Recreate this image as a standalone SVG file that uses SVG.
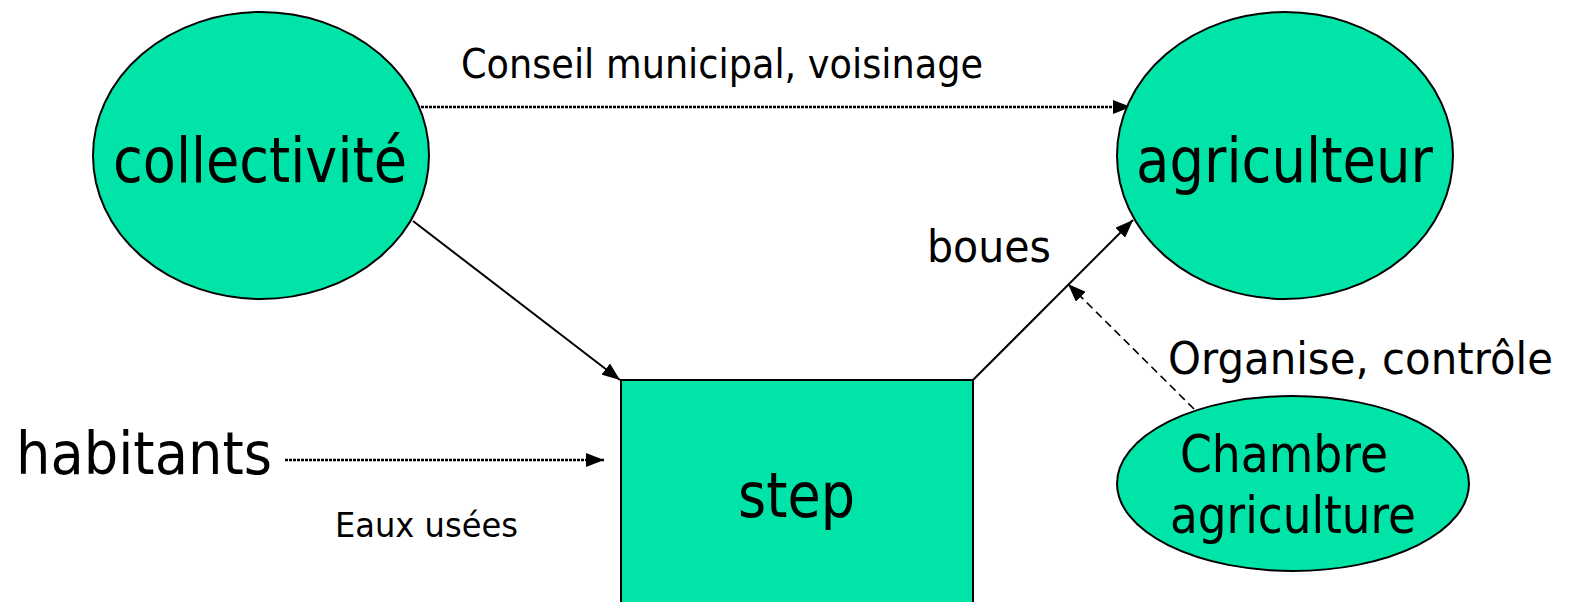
<svg xmlns="http://www.w3.org/2000/svg" width="1571" height="602" viewBox="0 0 1571 602">
  <style>
    .node { fill: #00E4A8; stroke: #000; stroke-width: 2; }
    .lbl { font-family: "DejaVu Sans", Verdana, sans-serif; fill: #000; }
    .solid { stroke: #000; stroke-width: 2; fill: none; }
    .dotted { stroke: #000; stroke-width: 2.5; stroke-dasharray: 3 1; fill: none; }
    .dashed { stroke: #000; stroke-width: 1.6; stroke-dasharray: 8 5; fill: none; }
  </style>
  <defs>
    <marker id="arrow" viewBox="0 0 10 10" refX="10" refY="5" markerWidth="9" markerHeight="9" markerUnits="userSpaceOnUse" orient="auto">
      <path d="M0,0 L10,5 L0,10 z" fill="#000"/>
    </marker>
    <marker id="arrowBig" viewBox="0 0 18 14" refX="18" refY="7" markerWidth="18" markerHeight="14" markerUnits="userSpaceOnUse" orient="auto">
      <path d="M0,0 L18,7 L0,14 z" fill="#000"/>
    </marker>
  </defs>

  <rect width="1571" height="602" fill="#fff"/>

  <!-- connectors -->
  <g id="connectors">
    <line class="dotted" x1="413" y1="107" x2="1131" y2="107" marker-end="url(#arrowBig)"/>
    <line class="solid" x1="413" y1="221" x2="620" y2="380" marker-end="url(#arrowBig)"/>
    <line class="solid" x1="973" y1="380" x2="1133" y2="220" marker-end="url(#arrowBig)"/>
    <line class="dashed" x1="1194" y1="409" x2="1068" y2="284" marker-end="url(#arrowBig)"/>
    <line class="dotted" x1="285" y1="460" x2="604" y2="460" marker-end="url(#arrowBig)"/>
  </g>

  <g id="node-collectivite">
    <ellipse class="node" cx="261" cy="155.5" rx="168" ry="143.5"/>
    <text class="lbl" x="113" y="182" font-size="62" textLength="294" lengthAdjust="spacingAndGlyphs">collectivité</text>
  </g>

  <g id="node-agriculteur">
    <ellipse class="node" cx="1285" cy="155.5" rx="168" ry="143.5"/>
    <text class="lbl" x="1136" y="182" font-size="62" textLength="297" lengthAdjust="spacingAndGlyphs">agriculteur</text>
  </g>

  <g id="node-step">
    <rect class="node" x="621" y="380" width="352" height="240"/>
    <text class="lbl" x="738" y="517" font-size="62" textLength="117" lengthAdjust="spacingAndGlyphs">step</text>
  </g>

  <g id="node-chambre">
    <ellipse class="node" cx="1293" cy="483.5" rx="176" ry="87.5"/>
    <text class="lbl" x="1180" y="472" font-size="52" textLength="208" lengthAdjust="spacingAndGlyphs">Chambre</text>
    <text class="lbl" x="1170" y="533" font-size="52" textLength="246" lengthAdjust="spacingAndGlyphs">agriculture</text>
  </g>

  <g id="node-habitants">
    <text class="lbl" x="16" y="474" font-size="58" textLength="256" lengthAdjust="spacingAndGlyphs">habitants</text>
  </g>

  <!-- connector labels -->
  <g id="labels">
    <text class="lbl" x="461" y="78" font-size="41" textLength="522" lengthAdjust="spacingAndGlyphs">Conseil municipal, voisinage</text>
    <text class="lbl" x="927" y="262" font-size="45" textLength="124" lengthAdjust="spacingAndGlyphs">boues</text>
    <text class="lbl" x="1168" y="374" font-size="45" textLength="385" lengthAdjust="spacingAndGlyphs">Organise, contrôle</text>
    <text class="lbl" x="335" y="537" font-size="33" textLength="183" lengthAdjust="spacingAndGlyphs">Eaux usées</text>
  </g>
</svg>
